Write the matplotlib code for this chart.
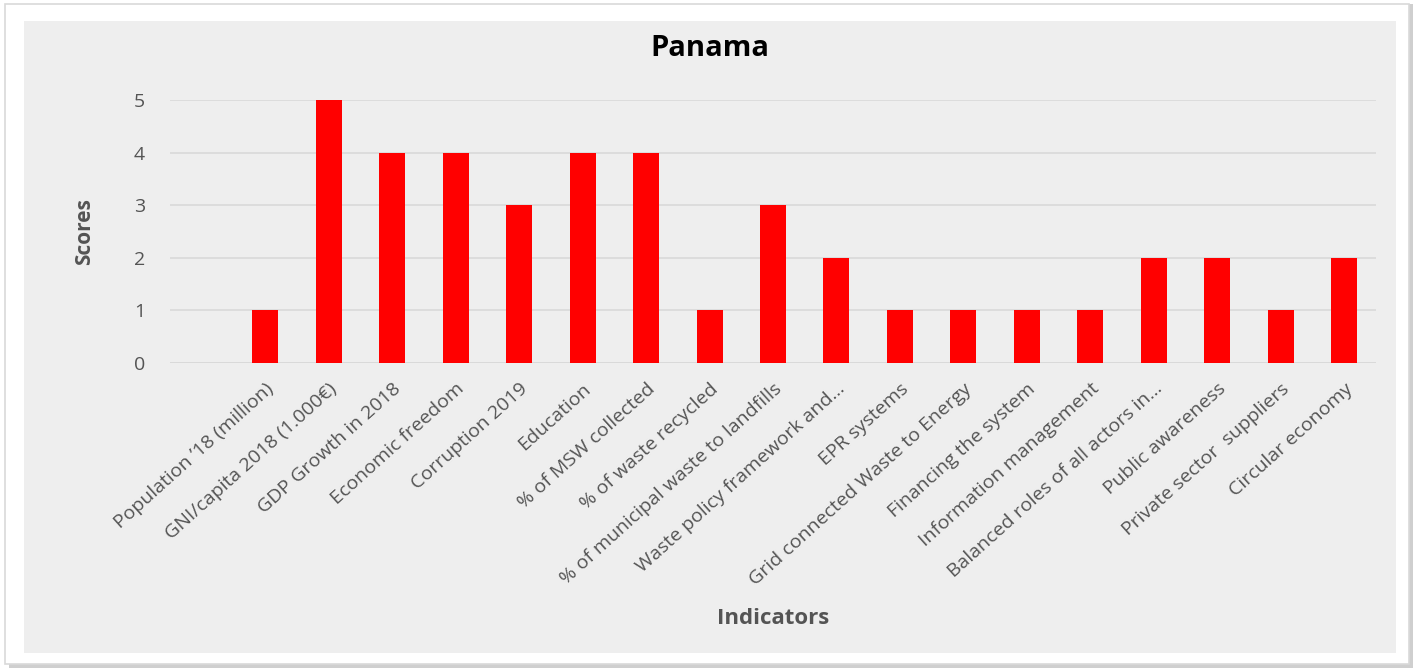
import matplotlib.pyplot as plt
from matplotlib.patches import Rectangle
import numpy as np

plt.rcParams['font.family'] = ['Open Sans', 'DejaVu Sans']

# first category is blank in the original sheet
categories = [
    '',
    'Population \u201918 (million)',
    'GNI/capita 2018 (1.000\u20ac)',
    'GDP Growth in 2018',
    'Economic freedom',
    'Corruption 2019',
    'Education',
    '% of MSW collected',
    '% of waste recycled',
    '% of municipal waste to landfills',
    'Waste policy framework and...',
    'EPR systems',
    'Grid connected Waste to Energy',
    'Financing the system',
    'Information management',
    'Balanced roles of all actors in...',
    'Public awareness',
    'Private sector  suppliers',
    'Circular economy',
]
scores = [np.nan, 1, 5, 4, 4, 3, 4, 4, 1, 3, 2, 1, 1, 1, 1, 2, 2, 1, 2]

W, H = 1415, 670
fig = plt.figure(figsize=(W / 100, H / 100), dpi=100)
fig.patch.set_facecolor('white')

# card border + shadow
fig.patches.append(Rectangle((9 / W, 1 - 668 / H), 1404 / W, 664 / H,
                             transform=fig.transFigure, facecolor='#b0b0b0',
                             edgecolor='none', alpha=0.6, zorder=-3))
fig.patches.append(Rectangle((5 / W, 1 - 664 / H), 1404 / W, 660 / H,
                             transform=fig.transFigure, facecolor='white',
                             edgecolor='#d9d9d9', linewidth=1.2, zorder=-2))
# grey chart area
fig.patches.append(Rectangle((24 / W, 1 - 653 / H), 1372 / W, 632 / H,
                             transform=fig.transFigure, facecolor='#eeeeee',
                             edgecolor='none', zorder=-1))

ax = fig.add_axes([170 / W, 1 - 363 / H, 1206 / W, 263 / H])
ax.set_facecolor('none')

x = np.arange(len(categories))
ax.bar(x, scores, width=0.41, color='#ff0000', zorder=3)

ax.set_xlim(-0.5, len(categories) - 0.5)
ax.set_ylim(0, 5)
ax.set_yticks(range(0, 6))
ax.yaxis.grid(True, color='#d9d9d9', linewidth=1.2, zorder=0)
for s in ax.spines.values():
    s.set_visible(False)
ax.axhline(0, color='#d9d9d9', linewidth=1.2, zorder=1)

ax.set_xticks(x)
ax.set_xticklabels(categories, rotation=42, ha='right', rotation_mode='anchor',
                   fontsize=14, color='#545454')
ax.tick_params(axis='x', length=0, pad=12)
ax.tick_params(axis='y', length=0, pad=18, labelsize=14, labelcolor='#545454')

ax.set_ylabel('Scores', fontsize=15, fontweight='bold', color='#545454', labelpad=28)
fig.text(773 / W, 1 - 619 / H, 'Indicators', fontsize=16, fontweight='bold',
         color='#545454', ha='center', va='center')
fig.text(710 / W, 1 - 48 / H, 'Panama', fontsize=21, fontweight='bold',
         color='black', ha='center', va='center')

fig.savefig('out.png', dpi=100)
